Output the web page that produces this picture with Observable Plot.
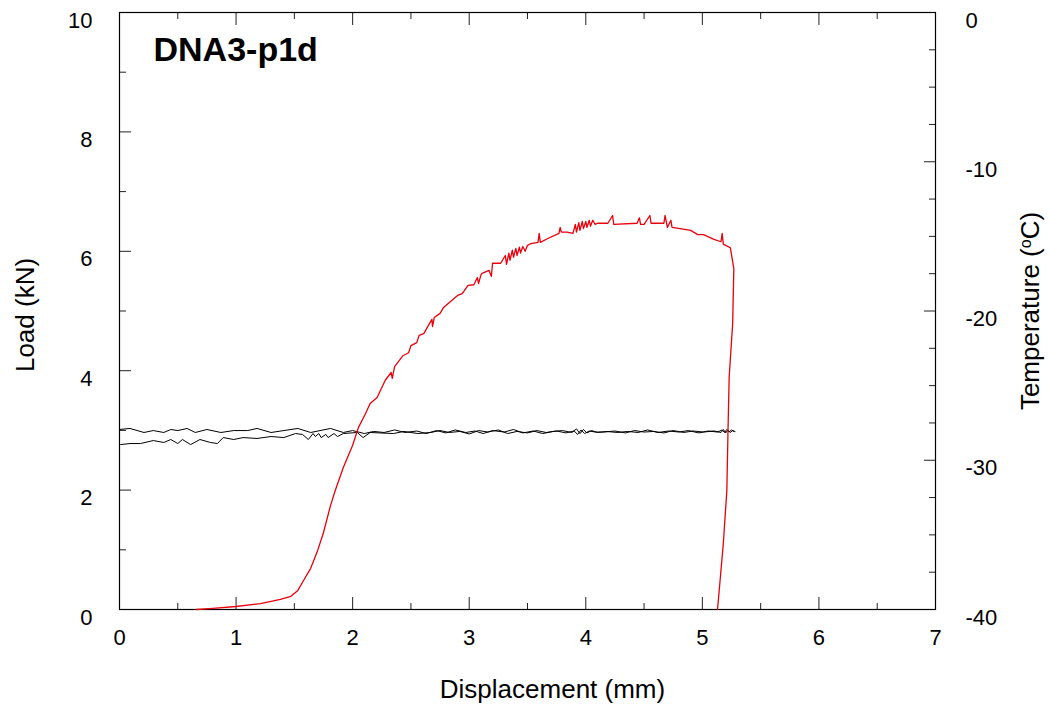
<!DOCTYPE html>
<html><head><meta charset="utf-8">
<script src="https://cdn.jsdelivr.net/npm/d3@7"></script>
<script src="https://cdn.jsdelivr.net/npm/@observablehq/plot@0.6"></script>
<style>body{margin:0;background:#fff} svg{display:block}</style>
</head><body><div id="chart"></div>
<script>
// Load (kN) vs displacement (mm) - red curve
const loadDisp = [0.66,0.80,1.00,1.21,1.38,1.47,1.53,1.58,1.64,1.70,1.75,1.81,1.85,1.92,2.00,2.05,2.11,2.15,2.21,2.28,2.33,2.34,2.36,2.43,2.48,2.50,2.55,2.57,2.61,2.65,2.68,2.685,2.70,2.75,2.78,2.84,2.90,2.94,2.99,3.04,3.07,3.08,3.10,3.11,3.17,3.19,3.20,3.27,3.31,
  3.32,3.34,3.35,3.37,3.38,3.40,3.41,3.43,3.44,3.46,3.48,3.50,3.53,3.59,3.60,3.61,3.67,3.77,3.78,3.79,3.84,3.89,
  3.91,3.92,3.94,3.95,3.97,3.98,4.00,4.01,4.03,4.04,4.06,4.08,4.10,4.19,4.23,4.24,4.44,4.46,4.47,4.50,4.55,4.56,4.67,4.68,4.70,4.73,4.74,4.81,4.90,4.96,5.01,5.10,5.16,5.17,5.18,5.20,5.24,
  5.27,5.26,5.23,5.22,5.21,5.18,5.15,5.13];
const loadVal = [0.00,0.02,0.05,0.10,0.17,0.22,0.32,0.49,0.69,0.99,1.29,1.74,1.99,2.38,2.75,3.05,3.28,3.45,3.55,3.84,3.97,3.87,4.07,4.25,4.30,4.42,4.47,4.59,4.62,4.76,4.86,4.74,4.89,4.96,5.06,5.16,5.26,5.29,5.43,5.44,5.56,5.46,5.60,5.63,5.68,5.58,5.80,5.80,5.93,
  5.78,5.97,5.85,6.02,5.90,6.05,5.93,6.07,5.97,6.08,6.00,6.10,6.13,6.15,6.30,6.15,6.21,6.30,6.40,6.32,6.32,6.30,
  6.45,6.32,6.48,6.35,6.50,6.38,6.50,6.40,6.52,6.42,6.52,6.45,6.47,6.47,6.60,6.45,6.47,6.56,6.45,6.45,6.60,6.47,6.47,6.60,6.40,6.52,6.40,6.38,6.35,6.28,6.28,6.20,6.16,6.30,6.12,6.10,6.06,
  5.71,4.79,3.89,3.00,1.99,1.11,0.44,0.00];

// Temperature (°C) vs displacement (mm) - two black traces
const tempDispA = [0.00,0.09,0.21,0.29,0.38,0.44,0.50,0.58,0.65,0.75,0.87,0.98,1.10,1.18,1.30,1.41,1.53,1.64,1.81,1.92,
  2.00,2.10,2.18,2.27,2.36,2.45,2.55,2.63,2.72,2.80,2.88,2.97,3.05,3.12,3.20,3.30,3.38,3.46,3.55,3.63,3.72,3.80,3.88,3.92,3.95,3.98,4.01,4.05,4.10,4.18,4.27,4.36,4.45,4.53,4.62,4.71,4.80,4.88,4.97,5.05,5.13,5.17,5.19,5.21,5.23,5.25,5.27];
const tempValA = [-27.94,-27.87,-28.14,-28.01,-28.14,-27.94,-28.01,-27.87,-28.14,-27.94,-28.14,-28.01,-28.01,-27.87,-28.14,-28.01,-27.87,-28.14,-27.87,-28.14,
  -28.01,-28.21,-28.07,-28.14,-27.97,-28.14,-28.04,-28.21,-28.01,-28.17,-27.97,-28.14,-28.04,-28.21,-28.01,-28.11,-27.94,-28.17,-28.04,-28.21,-28.07,-28.01,-28.14,-27.90,-28.21,-27.94,-28.17,-28.01,-28.14,-28.07,-28.14,-28.07,-28.14,-27.97,-28.14,-28.04,-28.11,-28.01,-28.17,-28.04,-28.11,-27.97,-28.14,-27.94,-28.11,-27.97,-28.07];
const tempDispB = [0.01,0.09,0.18,0.29,0.38,0.44,0.50,0.54,0.61,0.69,0.78,0.84,0.89,0.98,1.06,1.18,1.30,1.41,1.51,1.57,1.62,1.66,1.68,1.71,1.73,1.77,1.79,1.84,1.87,1.92,2.04,2.09,2.15,2.35,2.44,2.56,2.67,
  2.75,2.83,2.92,3.00,3.08,3.16,3.25,3.33,3.41,3.50,3.58,3.66,3.75,3.83,3.90,3.93,3.96,3.99,4.03,4.08,4.16,4.25,4.34,4.42,4.50,4.58,4.67,4.75,4.84,4.92,5.01,5.10,5.16,5.18,5.20,5.22,5.24,5.26,5.28];
const tempValB = [-28.95,-28.88,-28.88,-28.68,-28.81,-28.61,-28.88,-28.61,-28.95,-28.61,-28.81,-28.88,-28.48,-28.61,-28.48,-28.54,-28.41,-28.48,-28.21,-28.27,-28.61,-28.21,-28.41,-28.21,-28.48,-28.27,-28.48,-28.21,-28.41,-28.21,-28.14,-28.48,-28.14,-28.21,-28.07,-28.21,-28.14,
  -28.01,-28.14,-28.07,-28.24,-28.01,-28.11,-27.97,-28.21,-28.07,-28.17,-28.01,-28.14,-28.04,-28.17,-28.04,-28.27,-27.97,-28.21,-28.04,-28.11,-28.11,-28.04,-28.17,-28.01,-28.11,-28.07,-28.17,-28.01,-28.14,-28.04,-28.11,-28.04,-28.14,-27.94,-28.17,-27.97,-28.14,-28.01,-28.07];

// Ticks
const xMajor = [0,1,2,3,4,5,6,7];
const xMinor = [0.5,1.5,2.5,3.5,4.5,5.5,6.5];
const yMajor = [0,2,4,6,8,10];
const yMinor = [1,3,5,7,9];
const tMajor = [0,-10,-20,-30,-40];
const tMinor = [-2.5,-5,-7.5,-12.5,-15,-17.5,-22.5,-25,-27.5,-32.5,-35,-37.5];

const title = "DNA3-p1d";
const xTitle = "Displacement (mm)";
const yTitle = "Load (kN)";
const y2Title = "Temperature (oC)";

// secondary axis: temperature -40..0 mapped onto load 0..10
const toLoad = t => (t + 40) / 4;
const toTemp = l => l * 4 - 40;

const loadData = loadDisp.map((x, i) => ({x, y: loadVal[i]}));
const tempA = tempDispA.map((x, i) => ({x, t: tempValA[i]}));
const tempB = tempDispB.map((x, i) => ({x, t: tempValB[i]}));

const font = "'Liberation Sans', Arial, Helvetica, sans-serif";
const tickStroke = "#222";
const fs = 22;
const tfs = 26;

const chart = Plot.plot({
  width: 1050, height: 711,
  marginLeft: 119, marginRight: 115, marginTop: 12, marginBottom: 102,
  style: {fontFamily: font, background: "white", color: "black", fontSize: fs + "px"},
  x: {domain: [0, 7]},
  y: {domain: [0, 10]},
  marks: [
    // ticks pointing inward
    Plot.axisX(xMajor, {anchor: "bottom", tickSize: -12, fill: "none", label: null, stroke: tickStroke}),
    Plot.axisX(xMinor, {anchor: "bottom", tickSize: -6, fill: "none", label: null, stroke: tickStroke}),
    Plot.axisX(xMajor, {anchor: "top", tickSize: -12, fill: "none", label: null, stroke: tickStroke}),
    Plot.axisX(xMinor, {anchor: "top", tickSize: -6, fill: "none", label: null, stroke: tickStroke}),
    Plot.axisY(yMajor, {anchor: "left", tickSize: -12, fill: "none", label: null, stroke: tickStroke}),
    Plot.axisY(yMinor, {anchor: "left", tickSize: -7, fill: "none", label: null, stroke: tickStroke}),
    Plot.axisY(tMajor.map(toLoad), {anchor: "right", tickSize: -12, fill: "none", label: null, stroke: tickStroke}),
    Plot.axisY(tMinor.map(toLoad), {anchor: "right", tickSize: -7, fill: "none", label: null, stroke: tickStroke}),
    // tick labels
    Plot.axisX(xMajor, {anchor: "bottom", tickSize: 0, tickPadding: 20, label: null, fontSize: fs, tickFormat: d => String(d)}),
    Plot.axisY(yMajor, {anchor: "left", tickSize: 0, tickPadding: 27, label: null, fontSize: fs, dy: 8, tickFormat: d => String(d)}),
    Plot.axisY(tMajor.map(toLoad), {anchor: "right", tickSize: 0, tickPadding: 30, label: null, fontSize: fs, dy: 8, tickFormat: l => String(toTemp(l))}),
    Plot.frame({stroke: "black", strokeWidth: 1.2}),
    // data
    Plot.line(tempA, {x: "x", y: d => toLoad(d.t), stroke: "black", strokeWidth: 1}),
    Plot.line(tempB, {x: "x", y: d => toLoad(d.t), stroke: "black", strokeWidth: 1}),
    Plot.line(loadData, {x: "x", y: "y", stroke: "#e8000b", strokeWidth: 1.3}),
    // titles
    Plot.text([title], {frameAnchor: "top-left", textAnchor: "start", lineAnchor: "top", dx: 34, dy: 24, fontSize: 34, fontWeight: "bold"}),
    Plot.text([xTitle], {frameAnchor: "bottom", textAnchor: "middle", dx: 25, dy: 88, fontSize: tfs}),
    Plot.text([yTitle], {frameAnchor: "left", textAnchor: "middle", dx: -94, dy: 4, rotate: -90, fontSize: tfs}),
    Plot.text([y2Title], {frameAnchor: "right", textAnchor: "middle", dx: 95, dy: 0, rotate: -90, fontSize: tfs})
  ]
});

// superscript "o" in the temperature label
chart.querySelectorAll("text").forEach(t => {
  if (t.textContent === y2Title) {
    while (t.firstChild) t.removeChild(t.firstChild);
    const ns = "http://www.w3.org/2000/svg";
    t.appendChild(document.createTextNode("Temperature ("));
    const sup = document.createElementNS(ns, "tspan");
    sup.setAttribute("baseline-shift", "super");
    sup.setAttribute("font-size", "16");
    sup.textContent = "o";
    t.appendChild(sup);
    t.appendChild(document.createTextNode("C)"));
  }
});

document.getElementById("chart").appendChild(chart);
</script>
</body></html>
